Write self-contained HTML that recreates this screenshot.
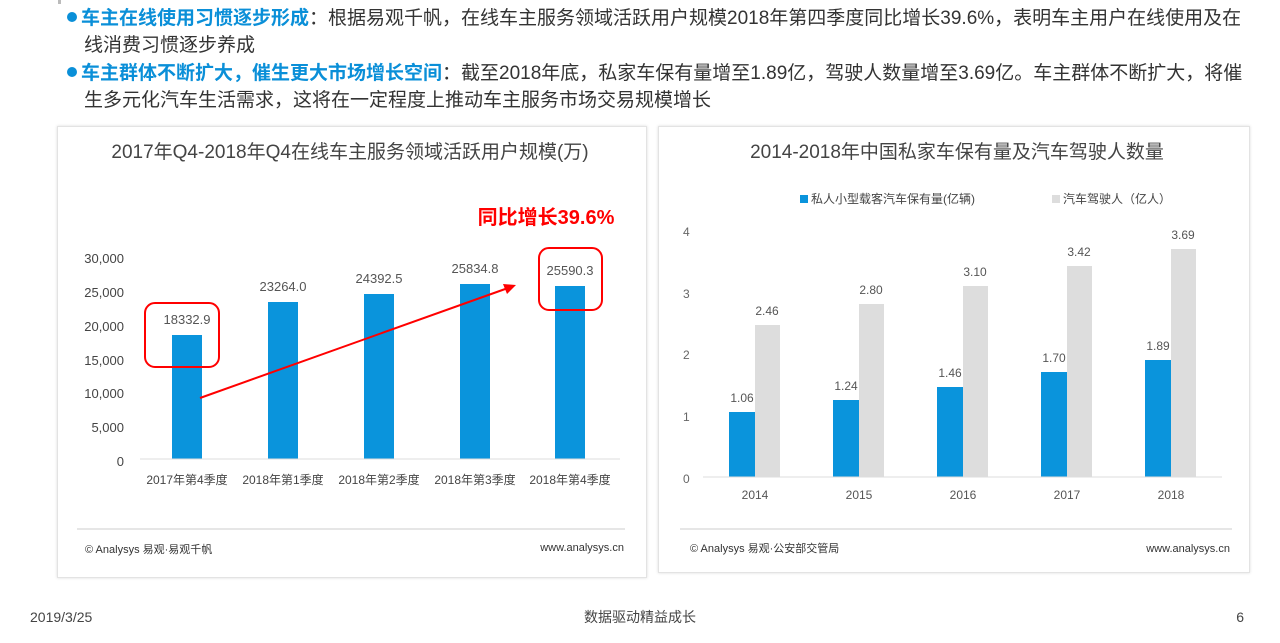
<!DOCTYPE html>
<html><head><meta charset="utf-8"><style>
body{margin:0;width:1280px;height:643px;background:#fff;font-family:"Liberation Sans","Noto Sans CJK SC",sans-serif;position:relative;overflow:hidden;color:#333}
.t{position:absolute;font-size:19px;line-height:26px;color:#333;white-space:nowrap}
.b{color:#0a8fd8;font-weight:bold}
.dot{display:inline-block;width:10px;height:10px;border-radius:50%;background:#0a8fd8;margin-right:4px;vertical-align:2px}
.panel{position:absolute;border:1px solid #e3e3e3;box-shadow:0 0 3px #ddd}
svg text{font-family:"Liberation Sans","Noto Sans CJK SC",sans-serif}
</style></head><body>
<div style="position:absolute;left:58px;top:0;width:3px;height:4px;background:#bbb"></div>
<div class="t" style="left:67px;top:6px"><span class="dot"></span><span class="b">车主在线使用习惯逐步形成</span>：根据易观千帆，在线车主服务领域活跃用户规模2018年第四季度同比增长39.6%，表明车主用户在线使用及在</div>
<div class="t" style="left:84px;top:33px">线消费习惯逐步养成</div>
<div class="t" style="left:67px;top:61px"><span class="dot"></span><span class="b">车主群体不断扩大，催生更大市场增长空间</span>：截至2018年底，私家车保有量增至1.89亿，驾驶人数量增至3.69亿。车主群体不断扩大，将催</div>
<div class="t" style="left:84px;top:88px">生多元化汽车生活需求，这将在一定程度上推动车主服务市场交易规模增长</div>

<div class="panel" style="left:57px;top:126px;width:588px;height:450px"></div>
<div class="panel" style="left:658px;top:126px;width:590px;height:445px"></div>

<svg width="1280" height="643" style="position:absolute;left:0;top:0">
<text x="350" y="158" font-size="19" fill="#444" text-anchor="middle">2017年Q4-2018年Q4在线车主服务领域活跃用户规模(万)</text>
<text x="546" y="224" font-size="20" fill="#f00" font-weight="bold" text-anchor="middle">同比增长39.6%</text>
<g font-size="13" fill="#444" text-anchor="end">
<text x="124" y="263">30,000</text><text x="124" y="297">25,000</text><text x="124" y="331">20,000</text><text x="124" y="365">15,000</text><text x="124" y="398">10,000</text><text x="124" y="432">5,000</text><text x="124" y="466">0</text>
</g>
<g fill="#0a94dc">
<rect x="172" y="335" width="30" height="124"/><rect x="268" y="302" width="30" height="157"/><rect x="364" y="294" width="30" height="165"/><rect x="460" y="284" width="30" height="175"/><rect x="555" y="286" width="30" height="173"/>
</g>
<g font-size="13" fill="#555" text-anchor="middle">
<text x="187" y="324">18332.9</text><text x="283" y="291">23264.0</text><text x="379" y="283">24392.5</text><text x="475" y="273">25834.8</text><text x="570" y="275">25590.3</text>
</g>
<rect x="145" y="303" width="74" height="64" rx="10" fill="none" stroke="#f00" stroke-width="2"/>
<rect x="539" y="248" width="63" height="62" rx="10" fill="none" stroke="#f00" stroke-width="2"/>
<line x1="200" y1="398" x2="508" y2="288" stroke="#f00" stroke-width="2"/>
<polygon points="516,285 503,284 507,294" fill="#f00"/>
<line x1="140" y1="459" x2="620" y2="459" stroke="#ddd"/>
<g font-size="12" fill="#444" text-anchor="middle">
<text x="187" y="484">2017年第4季度</text><text x="283" y="484">2018年第1季度</text><text x="379" y="484">2018年第2季度</text><text x="475" y="484">2018年第3季度</text><text x="570" y="484">2018年第4季度</text>
</g>
<line x1="77" y1="529" x2="625" y2="529" stroke="#ccc"/>
<text x="85" y="553" font-size="11" fill="#333">© Analysys 易观·易观千帆</text>
<text x="624" y="551" font-size="11" fill="#333" text-anchor="end">www.analysys.cn</text>

<text x="957" y="158" font-size="19" fill="#444" text-anchor="middle">2014-2018年中国私家车保有量及汽车驾驶人数量</text>
<rect x="800" y="195" width="8" height="8" fill="#0a94dc"/><text x="811" y="203" font-size="12" fill="#444">私人小型载客汽车保有量(亿辆)</text>
<rect x="1052" y="195" width="8" height="8" fill="#ddd"/><text x="1063" y="203" font-size="12" fill="#444">汽车驾驶人（亿人）</text>
<g font-size="12" fill="#666"><text x="683" y="236">4</text><text x="683" y="298">3</text><text x="683" y="359">2</text><text x="683" y="421">1</text><text x="683" y="483">0</text></g>
<g fill="#0a94dc">
<rect x="729" y="412" width="26" height="65"/><rect x="833" y="400" width="26" height="77"/><rect x="937" y="387" width="26" height="90"/><rect x="1041" y="372" width="26" height="105"/><rect x="1145" y="360" width="26" height="117"/>
</g>
<g fill="#ddd">
<rect x="755" y="325" width="25" height="152"/><rect x="859" y="304" width="25" height="173"/><rect x="963" y="286" width="25" height="191"/><rect x="1067" y="266" width="25" height="211"/><rect x="1171" y="249" width="25" height="228"/>
</g>
<g font-size="12" fill="#555" text-anchor="middle">
<text x="742" y="402">1.06</text><text x="846" y="390">1.24</text><text x="950" y="377">1.46</text><text x="1054" y="362">1.70</text><text x="1158" y="350">1.89</text>
<text x="767" y="315">2.46</text><text x="871" y="294">2.80</text><text x="975" y="276">3.10</text><text x="1079" y="256">3.42</text><text x="1183" y="239">3.69</text>
</g>
<line x1="703" y1="477" x2="1222" y2="477" stroke="#ddd"/>
<g font-size="12" fill="#555" text-anchor="middle"><text x="755" y="499">2014</text><text x="859" y="499">2015</text><text x="963" y="499">2016</text><text x="1067" y="499">2017</text><text x="1171" y="499">2018</text></g>
<line x1="680" y1="529" x2="1232" y2="529" stroke="#ccc"/>
<text x="690" y="552" font-size="11" fill="#333">© Analysys 易观·公安部交管局</text>
<text x="1230" y="552" font-size="11" fill="#333" text-anchor="end">www.analysys.cn</text>

<text x="30" y="622" font-size="14" fill="#444">2019/3/25</text>
<text x="640" y="622" font-size="14" fill="#444" text-anchor="middle">数据驱动精益成长</text>
<text x="1244" y="622" font-size="14" fill="#444" text-anchor="end">6</text>
</svg>
</body></html>
